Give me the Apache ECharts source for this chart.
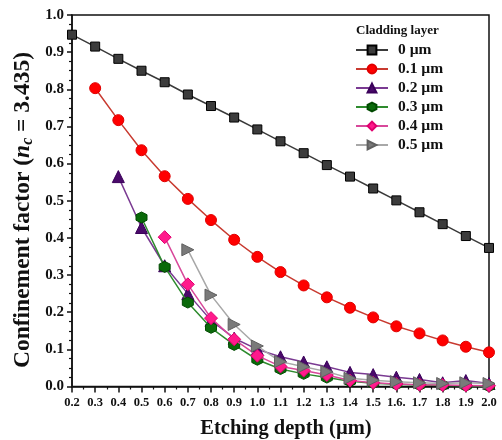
<!DOCTYPE html>
<html><head><meta charset="utf-8">
<script src="https://cdn.jsdelivr.net/npm/echarts@6/dist/echarts.min.js"></script>
<style>html,body{margin:0;padding:0;background:#fff}#c{width:502px;height:440px}</style>
</head><body><div id="c"></div>
<script>
const depths = [0.2,0.3,0.4,0.5,0.6,0.7,0.8,0.9,1.0,1.1,1.2,1.3,1.4,1.5,1.6,1.7,1.8,1.9,2.0];
const xTickLabels = ['0.2','0.3','0.4','0.5','0.6','0.7','0.8','0.9','1.0','1.1','1.2','1.3','1.4','1.5','1.6.','1.7','1.8','1.9','2.0'];
const yTickLabels = ['0.0','0.1','0.2','0.3','0.4','0.5','0.6','0.7','0.8','0.9','1.0'];
const seriesNames = ['0 µm','0.1 µm','0.2 µm','0.3 µm','0.4 µm','0.5 µm'];
const clad0  = [0.947,0.915,0.882,0.850,0.819,0.786,0.755,0.724,0.692,0.660,0.628,0.596,0.565,0.533,0.501,0.469,0.437,0.405,0.373];
const clad01 = [null,0.803,0.717,0.636,0.566,0.505,0.448,0.395,0.349,0.308,0.272,0.240,0.212,0.186,0.162,0.143,0.124,0.107,0.092];
const clad02 = [null,null,0.565,0.428,0.325,0.250,0.178,0.130,0.100,0.080,0.066,0.053,0.038,0.032,0.025,0.019,0.010,0.016,0.008];
const clad03 = [null,null,null,0.455,0.322,0.226,0.158,0.112,0.072,0.047,0.034,0.024,0.014,0.009,0.006,0.004,0.003,0.002,0.001];
const clad04 = [null,null,null,null,0.402,0.275,0.184,0.127,0.083,0.054,0.043,0.031,0.016,0.010,0.007,0.005,0.004,0.003,0.002];
const clad05 = [null,null,null,null,null,0.368,0.246,0.167,0.109,0.067,0.053,0.040,0.022,0.017,0.013,0.010,0.008,0.010,0.008];

const FONT = '"Liberation Serif","Times New Roman",serif';
const hexagon = 'path://M5,0 L9.33,2.5 L9.33,7.5 L5,10 L0.67,7.5 L0.67,2.5 Z';
const triRight = 'path://M0,0 L10,5 L0,10 Z';
const styles = [
  {line:'#3a3a3a', fill:'#3c3c3c', border:'#000', symbol:'rect', size:9},
  {line:'#c83a30', fill:'#ff0000', border:'#e00000', symbol:'circle', size:11},
  {line:'#7a3a92', fill:'#4a0a6a', border:'#3a005a', symbol:'triangle', size:12},
  {line:'#2e8b2e', fill:'#0a6a0a', border:'#004a00', symbol:hexagon, size:11},
  {line:'#d8489a', fill:'#ff1a8c', border:'#e0006e', symbol:'diamond', size:13},
  {line:'#a8a8a8', fill:'#7a7a7a', border:'#606060', symbol:triRight, size:12}
];
const datasets = [clad0, clad01, clad02, clad03, clad04, clad05];

const series = datasets.map((arr, i) => ({
  name: seriesNames[i],
  type: 'line',
  data: arr.map((v, k) => [depths[k], v]).filter(p => p[1] !== null),
  symbol: styles[i].symbol,
  symbolSize: styles[i].size,
  showAllSymbol: true,
  lineStyle: {color: styles[i].line, width: 1.5},
  itemStyle: {color: styles[i].fill, borderColor: styles[i].border, borderWidth: 1},
  z: 2 + i,
  animation: false
}));

const chart = echarts.init(document.getElementById('c'), null, {renderer: 'canvas'});
chart.setOption({
  backgroundColor: '#fff',
  animation: false,
  title: {
    text: 'Cladding layer', left: 351, top: 19,
    textStyle: {fontFamily: FONT, fontWeight: 'bold', fontSize: 13, color: '#111'}
  },
  legend: {
    orient: 'vertical', left: 350, top: 37,
    itemWidth: 32, itemHeight: 11, itemGap: 3,
    textStyle: {fontFamily: FONT, fontWeight: 'bold', fontSize: 15.5, color: '#111', padding: [0, 0, 0, 5]},
    data: seriesNames
  },
  graphic: [{
    type: 'text', x: 23, y: 210, rotation: Math.PI / 2,
    style: {
      text: '{a|Confinement factor (}{n|n}{s|c}{a| = 3.435)}',
      align: 'center', verticalAlign: 'middle',
      fontFamily: FONT, fontWeight: 'bold', fontSize: 23.5, fill: '#111',
      rich: {
        a: {fontFamily: FONT, fontWeight: 'bold', fontSize: 23.5, fill: '#111', color: '#111'},
        n: {fontFamily: FONT, fontWeight: 'bold', fontStyle: 'italic', fontSize: 23.5, fill: '#111', color: '#111'},
        s: {fontFamily: FONT, fontWeight: 'bold', fontStyle: 'italic', fontSize: 16, fill: '#111', color: '#111', padding: [10, 0, 0, 0]}
      }
    }
  }],
  grid: {left: 72, right: 13, top: 15, bottom: 53.5, show: true, borderColor: '#111', borderWidth: 1.5,
         containLabel: false, outerBoundsMode: 'none'},
  xAxis: {
    type: 'value', min: 0.2, max: 2.0, interval: 0.1,
    name: 'Etching depth (µm)', nameLocation: 'middle', nameGap: 32,
    nameTextStyle: {fontFamily: FONT, fontWeight: 'bold', fontSize: 20.5, color: '#111', padding: [0, 0, 0, 11]},
    axisLine: {show: true, lineStyle: {color: '#111', width: 1.5}},
    axisTick: {show: true, length: 6, lineStyle: {color: '#111', width: 1.5}},
    minorTick: {show: true, splitNumber: 2, length: 3, lineStyle: {color: '#111', width: 1.2}},
    splitLine: {show: false},
    axisLabel: {
      fontFamily: FONT, fontWeight: 'bold', fontSize: 12.5, color: '#111', margin: 10,
      formatter: v => xTickLabels[Math.round((v - depths[0]) * 10)] || ''
    }
  },
  yAxis: {
    type: 'value', min: 0, max: 1.0, interval: 0.1,
    axisLine: {show: true, lineStyle: {color: '#111', width: 1.5}},
    axisTick: {show: true, length: 5, lineStyle: {color: '#111', width: 1.5}},
    minorTick: {show: true, splitNumber: 4, length: 3, lineStyle: {color: '#111', width: 1.2}},
    splitLine: {show: false},
    axisLabel: {
      fontFamily: FONT, fontWeight: 'bold', fontSize: 15, color: '#111', margin: 8,
      formatter: v => yTickLabels[Math.round(v * 10)] || ''
    }
  },
  series: series
});
</script></body></html>
